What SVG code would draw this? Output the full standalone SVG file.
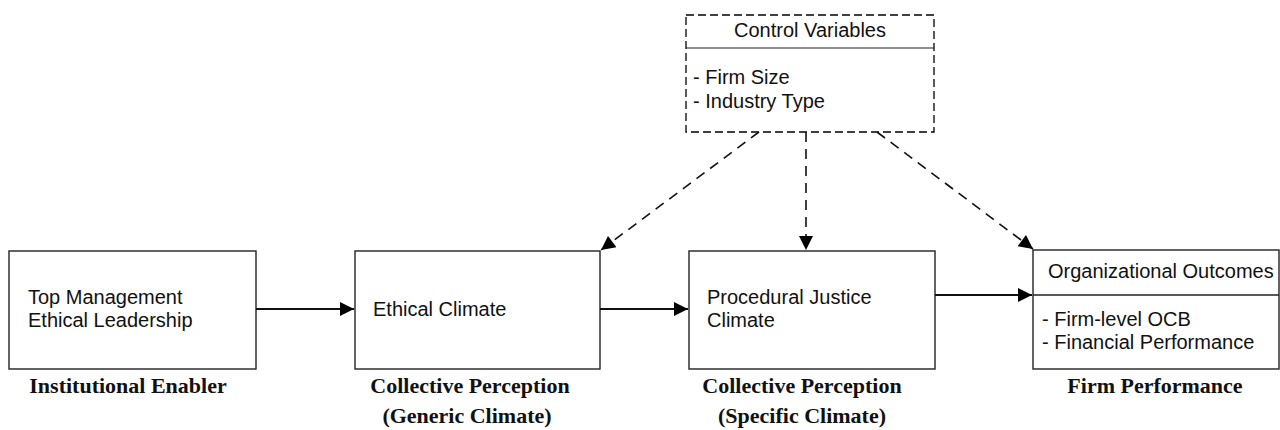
<svg xmlns="http://www.w3.org/2000/svg" width="1280" height="430" viewBox="0 0 1280 430">
<style>
.box{fill:#fff;stroke:#222;stroke-width:1.4}
.dbox{fill:#fff;stroke:#000;stroke-width:1.3;stroke-dasharray:8,4}
.t{font-family:"Liberation Sans",Arial,sans-serif;font-size:20px;fill:#111}
.b{font-family:"Liberation Serif","Times New Roman",serif;font-size:22px;font-weight:bold;fill:#111;text-anchor:middle}
.c{stroke:#111;stroke-width:2;fill:none}
.d{stroke:#111;stroke-width:1.6;fill:none;stroke-dasharray:10,7}
</style>
<defs>
<marker id="ah" viewBox="0 0 10 10" refX="10" refY="5" markerWidth="19" markerHeight="14" markerUnits="userSpaceOnUse" orient="auto">
<path d="M0,0 L10,5 L0,10 Z" fill="#000"/>
</marker>
</defs>
<g id="control">
<rect class="dbox" x="686" y="15" width="248" height="117"/>
<line x1="686" y1="48" x2="934" y2="48" stroke="#222" stroke-width="1.2"/>
<text class="t" x="810" y="37" text-anchor="middle">Control Variables</text>
<text class="t" x="693" y="84">- Firm Size</text>
<text class="t" x="693" y="108">- Industry Type</text>
</g>
<g id="n1">
<rect class="box" x="9" y="251" width="247" height="118"/>
<text class="t" x="28" y="304">Top Management</text>
<text class="t" x="28" y="327">Ethical Leadership</text>
<text class="b" x="128" y="393">Institutional Enabler</text>
</g>
<g id="n2">
<rect class="box" x="355" y="251" width="245" height="118"/>
<text class="t" x="373" y="316">Ethical Climate</text>
<text class="b" x="470" y="393">Collective Perception</text>
<text class="b" x="467" y="423">(Generic Climate)</text>
</g>
<g id="n3">
<rect class="box" x="689" y="251" width="246" height="118"/>
<text class="t" x="707" y="304">Procedural Justice</text>
<text class="t" x="707" y="327">Climate</text>
<text class="b" x="802" y="393">Collective Perception</text>
<text class="b" x="802" y="423">(Specific Climate)</text>
</g>
<g id="n4">
<rect class="box" x="1033" y="250" width="246" height="119"/>
<line class="box" x1="1033" y1="295" x2="1279" y2="295"/>
<text class="t" x="1048" y="278">Organizational Outcomes</text>
<text class="t" x="1042" y="326">- Firm-level OCB</text>
<text class="t" x="1042" y="349">- Financial Performance</text>
<text class="b" x="1155" y="393">Firm Performance</text>
</g>
<g id="connectors">
<line class="c" x1="256" y1="309" x2="354" y2="309" marker-end="url(#ah)"/>
<line class="c" x1="600" y1="309" x2="688" y2="309" marker-end="url(#ah)"/>
<line class="c" x1="935" y1="295" x2="1032" y2="295" marker-end="url(#ah)"/>
<line class="d" x1="759" y1="132" x2="601" y2="250" marker-end="url(#ah)"/>
<line class="d" x1="806" y1="132" x2="806" y2="250" marker-end="url(#ah)"/>
<line class="d" x1="877" y1="132" x2="1033" y2="249" marker-end="url(#ah)"/>
</g>
</svg>
